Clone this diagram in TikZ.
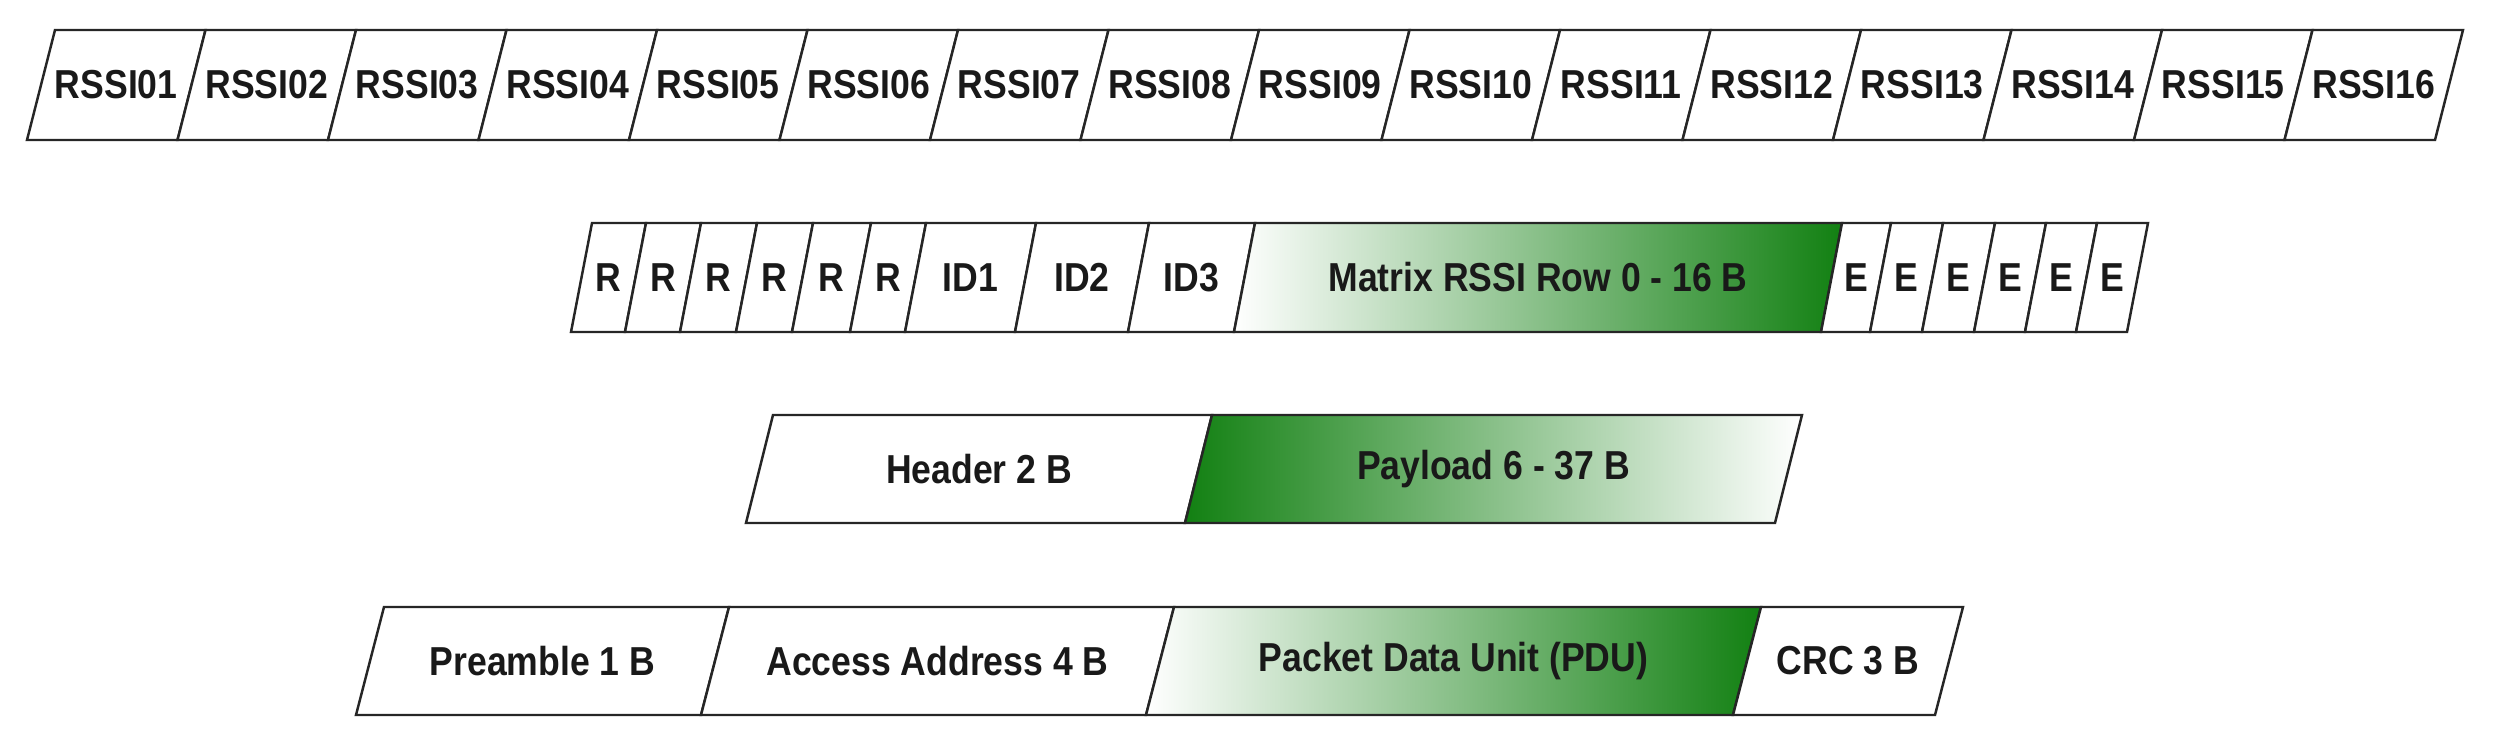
\documentclass[tikz,border=0pt]{standalone}
\usepackage{fontspec}
\setmainfont{Liberation Sans}[FakeStretch=0.88]
\definecolor{dgreen}{RGB}{18,128,18}
\tikzset{
  cell/.style={draw=black!85, line width=0.7pt, fill=white, line join=miter},
  gl/.style={cell, left color=white, right color=dgreen},
  gr/.style={cell, left color=dgreen, right color=white},
  lab/.style={font=\bfseries\fontsize{11.5}{13}\selectfont, text=black!90, inner sep=0pt}
}
% #1 style, #2 name, #3 x bottom-left, #4 x bottom-right, #5 slant, #6 ytop, #7 ybottom, #8 label
\newcommand{\seg}[8][cell]{%
  \path[#1] (#3,#7) -- (#4,#7) -- ({#4+#5},#6) -- ({#3+#5},#6) -- cycle;
  \node[lab] (#2) at ({(#3+#4+#5)/2},{(#6+#7)/2}) {#8};
}
\begin{document}
\begin{tikzpicture}[x=0.01cm,y=-0.01cm]
\useasboundingbox (0,0) rectangle (2514,748);
% Row 1
\foreach \i [evaluate=\i as \xa using {27+150.5*(\i-1)}, evaluate=\i as \xb using {27+150.5*\i}] in {1,...,16}{
  \seg{r\i}{\xa}{\xb}{28}{30}{140}{RSSI\ifnum\i<10 0\fi\i}
}
% Row 2
\seg{ra}{571}{625}{21}{223}{332}{R}
\seg{rb}{625}{680}{21}{223}{332}{R}
\seg{rc}{680}{736}{21}{223}{332}{R}
\seg{rd}{736}{792}{21}{223}{332}{R}
\seg{re}{792}{850}{21}{223}{332}{R}
\seg{rf}{850}{905}{21}{223}{332}{R}
\seg{id1}{905}{1015}{21}{223}{332}{ID1}
\seg{id2}{1015}{1128}{21}{223}{332}{ID2}
\seg{id3}{1128}{1234}{21}{223}{332}{ID3}
\seg[gl]{mat}{1234}{1821}{21}{223}{332}{Matrix RSSI Row 0 - 16 B}
\seg{ea}{1821}{1870}{21}{223}{332}{E}
\seg{eb}{1870}{1922}{21}{223}{332}{E}
\seg{ec}{1922}{1974}{21}{223}{332}{E}
\seg{ed}{1974}{2025}{21}{223}{332}{E}
\seg{ee}{2025}{2076}{21}{223}{332}{E}
\seg{ef}{2076}{2127}{21}{223}{332}{E}
% Row 3
\seg{hdr}{746}{1185}{27}{415}{523}{Header 2 B}
\seg[gr]{pay}{1185}{1775}{27}{415}{523}{Payload 6 - 37 B}
% Row 4
\seg{pre}{356}{701}{28}{607}{715}{Preamble 1 B}
\seg{acc}{701}{1146}{28}{607}{715}{Access Address 4 B}
\seg[gl]{pdu}{1146}{1733}{28}{607}{715}{Packet Data Unit (PDU)}
\seg{crc}{1733}{1935}{28}{607}{715}{CRC 3 B}
\end{tikzpicture}
\end{document}
